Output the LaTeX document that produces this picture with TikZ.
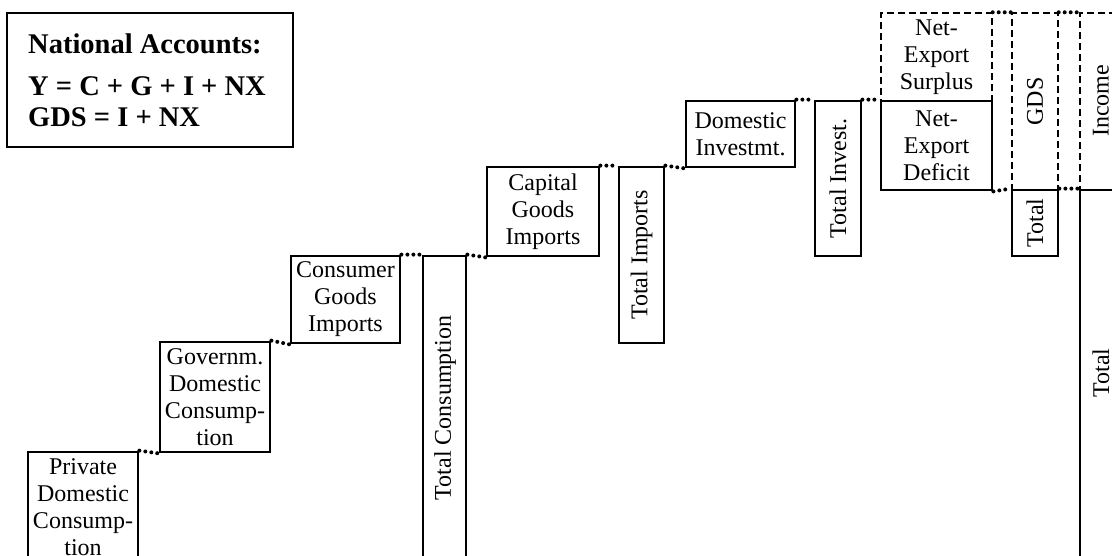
\documentclass[tikz,border=0pt]{standalone}
\usepackage{fontspec}
\setmainfont{Liberation Serif}
\usetikzlibrary{fit}
\begin{document}
\begin{tikzpicture}[x=1pt,y=-1pt,
  box/.style={draw, line width=2.8pt, inner sep=0pt},
  dbox/.style={draw, line width=1.4pt, dash pattern=on 7pt off 4pt, inner sep=0pt},
  lbl/.style={inner sep=0pt, align=center, font=\fontsize{24}{27}\selectfont},
  leglbl/.style={inner sep=0pt, anchor=base west, font=\bfseries\fontsize{28.5}{31}\selectfont},
  conn/.style={line width=4pt, line cap=round, dash pattern=on 0pt off 6pt}]
\useasboundingbox (0,0) rectangle (1112,555);
\clip (0,0) rectangle (1112,555);
% legend
\node[box, fit={(7,13)(293,147)}] (leg) {};
\node[leglbl] (leg1) at (28,53) {National Accounts:};
\node[leglbl] (leg2) at (28,95) {Y = C + G + I + NX};
\node[leglbl] (leg3) at (28,126) {GDS = I + NX};
% boxes
\node[box, fit={(28,452)(138,580)}] (priv) {};
\node[box, fit={(160,342)(270,452)}] (gov) {};
\node[box, fit={(291,256)(400,343)}] (cons) {};
\node[box, fit={(423,256)(466,580)}] (totc) {};
\node[box, fit={(487,167)(599,256)}] (cap) {};
\node[box, fit={(619,167)(664,343)}] (toti) {};
\node[box, fit={(686,101)(795,167)}] (dom) {};
\node[box, fit={(815,101)(861,256)}] (totinv) {};
\node[dbox, fit={(881,13)(992,101)}] (sur) {};
\node[box, fit={(881,101)(992,190)}] (def) {};
\node[dbox, fit={(1012,13)(1058,190)}] (gds) {};
\node[box, fit={(1012,190)(1058,256)}] (gdstot) {};
\node[dbox, fit={(1080,13)(1125,190)}] (inc) {};
\node[box, fit={(1080,190)(1125,580)}] (inctot) {};
% labels
\node[lbl, anchor=north] (privt) at ([yshift=-8pt]priv.north) {Private\\Domestic\\Consump-\\tion};
\node[lbl, anchor=north] (govt) at ([yshift=-8pt]gov.north) {Governm.\\Domestic\\Consump-\\tion};
\node[lbl] (const) at (cons.center) {Consumer\\Goods\\Imports};
\node[lbl, rotate=90] (totct) at (445,408) {Total Consumption};
\node[lbl] (capt) at (cap.center) {Capital\\Goods\\Imports};
\node[lbl, rotate=90] (totit) at (toti.center) {Total Imports};
\node[lbl] (domt) at (dom.center) {Domestic\\Investmt.};
\node[lbl, rotate=90] (totinvt) at (totinv.center) {Total Invest.};
\node[lbl] (surt) at (sur.center) {Net-\\Export\\Surplus};
\node[lbl] (deft) at (def.center) {Net-\\Export\\Deficit};
\node[lbl, rotate=90] (gdst) at (gds.center) {GDS};
\node[lbl, rotate=90] (gdstott) at (gdstot.center) {Total};
\node[lbl, rotate=90] (inct) at (1101,101) {Income};
\node[lbl, rotate=90] (inctott) at (1101,373) {Total};
% connectors
\draw[conn] (priv.north east) -- (gov.south west);
\draw[conn] (gov.north east) -- (cons.south west);
\draw[conn] (cons.north east) -- (totc.north west);
\draw[conn] (totc.north east) -- (cap.south west);
\draw[conn] (cap.north east) -- (toti.north west);
\draw[conn] (toti.north east) -- (dom.south west);
\draw[conn] (dom.north east) -- (totinv.north west);
\draw[conn] (totinv.north east) -- (def.north west);
\draw[conn] (sur.north east) -- (gds.north west);
\draw[conn] (def.south east) -- (gdstot.north west);
\draw[conn] (gds.north east) -- (inc.north west);
\draw[conn] (gdstot.north east) -- (inctot.north west);
\end{tikzpicture}
\end{document}
